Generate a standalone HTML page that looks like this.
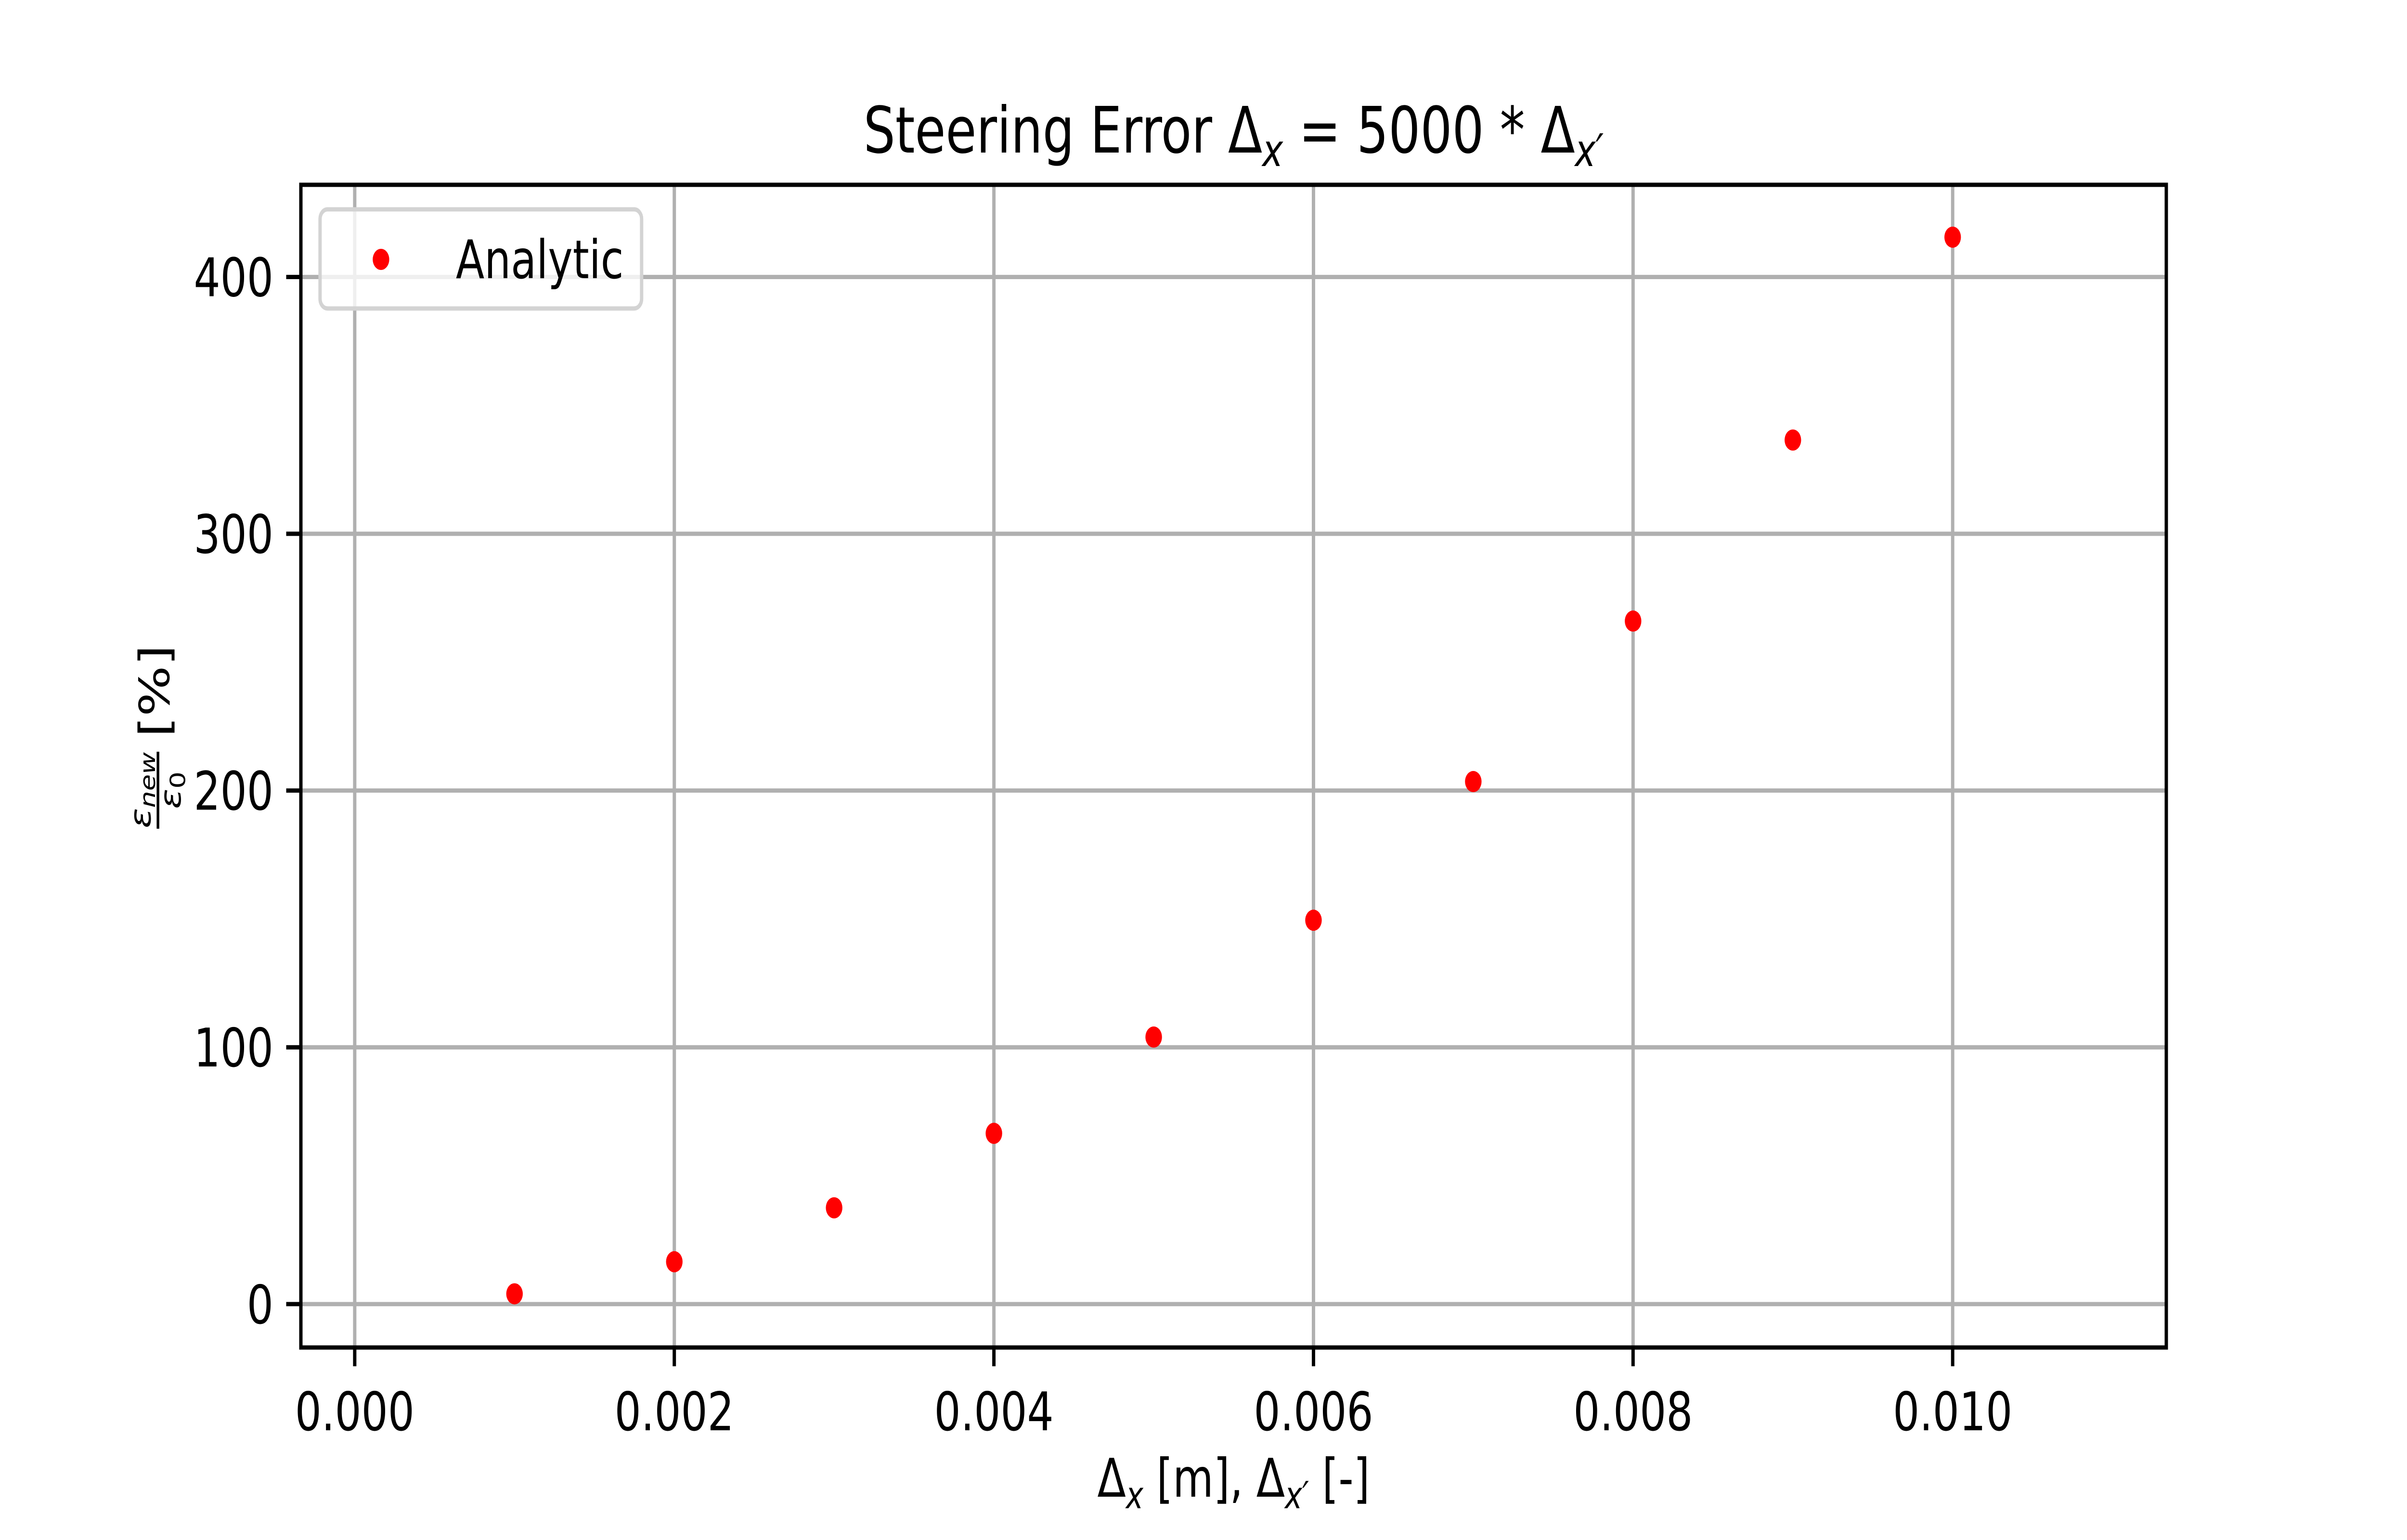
<!DOCTYPE html>
<html><head><meta charset="utf-8"><style>
html,body{margin:0;padding:0;background:#fff;width:100%;height:100%;overflow:hidden;}
svg{display:block;width:100vw;height:100vh;font-family:"DejaVu Sans","Liberation Sans",sans-serif;}
</style></head><body>
<svg id="chart" viewBox="0 0 6400 3200" preserveAspectRatio="none" xmlns="http://www.w3.org/2000/svg">
<rect width="6400" height="3200" fill="#fff"/>
<g id="grid"></g>
<g id="marks"></g>
<rect x="800" y="384" width="4960" height="2416" fill="none" stroke="#000" stroke-width="8.9"/>
<g id="ticks"></g>
<text x="3280" y="317" font-size="133" text-anchor="middle">Steering Error Δ<tspan font-style="italic" font-size="93" dy="28">x</tspan><tspan dy="-28"> = 5000 * Δ</tspan><tspan font-style="italic" font-size="93" dy="28">x′</tspan></text>
<text x="3280" y="3110" font-size="111" text-anchor="middle">Δ<tspan font-style="italic" font-size="78" dy="24">x</tspan><tspan dy="-24"> [m], Δ</tspan><tspan font-style="italic" font-size="78" dy="24">x′</tspan><tspan dy="-24"> [-]</tspan></text>
<g transform="translate(420,1592) rotate(-90)">
<text x="-50" y="-20" font-size="78" text-anchor="middle" font-style="italic">ε<tspan font-size="56" dy="12">new</tspan></text>
<line x1="-130" y1="0" x2="30" y2="0" stroke="#000" stroke-width="7"/>
<text x="-50" y="60" font-size="78" text-anchor="middle" font-style="italic">ε<tspan font-size="56" font-style="normal" dy="12">0</tspan></text>
<text x="60" y="30" font-size="111">[%]</text>
</g>
<g>
<rect x="851" y="435" width="855" height="206" rx="20" fill="#fff" fill-opacity="0.8" stroke="#d3d3d3" stroke-width="8.9"/>
<circle cx="1013" cy="539" r="22" fill="#ff0000"/>
<text x="1212" y="578" font-size="111">Analytic</text>
</g>
</svg>
<script>
const xValues = [0.001,0.002,0.003,0.004,0.005,0.006,0.007,0.008,0.009,0.010];
const yValues = [4,16.5,37.5,66.5,104,149.5,203.5,266,336.5,415.5];
const xTicks = [0,0.002,0.004,0.006,0.008,0.010];
const xTickLabels = ["0.000","0.002","0.004","0.006","0.008","0.010"];
const yTicks = [0,100,200,300,400];
const yTickLabels = ["0","100","200","300","400"];

const L=800,R=5760,T=384,B=2800;
const xMin=-0.000337,xMax=0.011337,yMin=-16.9,yMax=435.9;
function sx(v){return L+(v-xMin)/(xMax-xMin)*(R-L);}
function sy(v){return B-(v-yMin)/(yMax-yMin)*(B-T);}
const NS="http://www.w3.org/2000/svg";
const grid=document.getElementById('grid'),ticks=document.getElementById('ticks'),marks=document.getElementById('marks');
function mk(tag,attrs,parent){const e=document.createElementNS(NS,tag);for(const k in attrs)e.setAttribute(k,attrs[k]);parent.appendChild(e);return e;}
xTicks.forEach((v,i)=>{
  const x=sx(v);
  const g=mk('line',{x1:x,x2:x,y1:T,y2:B,stroke:'#b0b0b0','stroke-width':8.9},grid);
  
  
  const t=mk('line',{x1:x,x2:x,y1:B,y2:B+39,stroke:'#000','stroke-width':8.9},ticks);
  
  
  const l=mk('text',{x:x,y:2972,'font-size':111,'text-anchor':'middle'},ticks);
  l.textContent=xTickLabels[i];
  
  
});
yTicks.forEach((v,i)=>{
  const y=sy(v);
  const g=mk('line',{x1:L,x2:R,y1:y,y2:y,stroke:'#b0b0b0','stroke-width':8.9},grid);
  
  
  const t=mk('line',{x1:L-39,x2:L,y1:y,y2:y,stroke:'#000','stroke-width':8.9},ticks);
  
  
  const l=mk('text',{x:727,y:y+40,'font-size':111,'text-anchor':'end'},ticks);
  l.textContent=yTickLabels[i];
  
  
});
xValues.forEach((v,i)=>{
  const c=mk('circle',{cx:sx(v),cy:sy(yValues[i]),r:22,fill:'#ff0000'},marks);
  
  
});
</script>
</body></html>
